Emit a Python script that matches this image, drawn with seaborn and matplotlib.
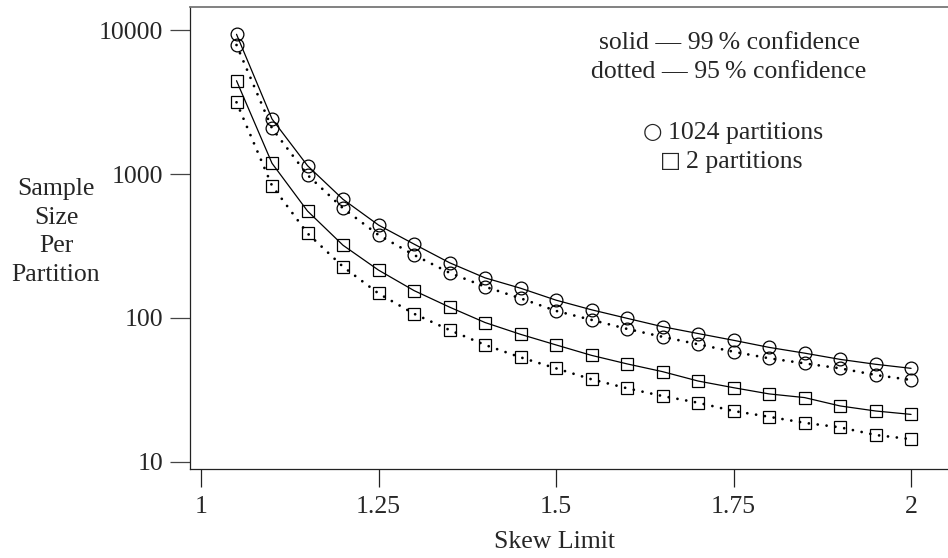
import numpy as np
import pandas as pd
import seaborn as sns
from matplotlib import pyplot as plt

sns.set_style("ticks")
plt.rcParams["font.family"] = ["Liberation Serif", "DejaVu Serif"]

# skew limits on the x axis
skew = [1.05, 1.10, 1.15, 1.20, 1.25, 1.30, 1.35, 1.40, 1.45, 1.50,
        1.55, 1.60, 1.65, 1.70, 1.75, 1.80, 1.85, 1.90, 1.95, 2.00]

# sample size per partition
p1024_99 = [9340, 2410, 1142, 667, 442, 326, 242, 190, 161, 133,
            114, 99.5, 87, 78, 70, 62.5, 57, 51.6, 47.7, 44.7]
p1024_95 = [7870, 2075, 984, 578, 377, 274, 206, 165, 137, 112,
            97, 84, 74, 65.7, 58.3, 52.5, 48.4, 44.7, 40.2, 37.1]
p2_99 = [4446, 1187, 553, 320, 215, 155, 119, 93, 77, 65,
         55, 48, 42.4, 36.5, 32.8, 29.7, 28, 24.5, 22.6, 21.4]
p2_95 = [3148, 829, 387, 227, 148, 107, 82.5, 65, 53.3, 44.7,
         37.5, 32.5, 28.7, 25.8, 22.6, 20.6, 18.7, 17.4, 15.4, 14.4]

x_ticks = [1, 1.25, 1.5, 1.75, 2]
x_tick_labels = ["1", "1.25", "1.5", "1.75", "2"]
y_ticks = [10, 100, 1000, 10000]
y_tick_labels = ["10", "100", "1000", "10000"]

fs = 18.5
fig = plt.figure(figsize=(9.48, 5.58), dpi=100)
ax = fig.add_axes([190 / 948, 1 - 468.7 / 558, 758 / 948, 461.7 / 558])

dotted = (0, (0.01, 3.2))
series = [
    (p1024_99, "o", 9.2, "-", 0.9),
    (p1024_95, "o", 9.2, dotted, 2.0),
    (p2_99, "s", 8.6, "-", 0.9),
    (p2_95, "s", 8.6, dotted, 2.0),
]
for values, marker, msize, ls, lw in series:
    df = pd.DataFrame({"skew": skew, "size": values})
    sns.lineplot(data=df, x="skew", y="size", ax=ax, color="black",
                 linestyle=ls, linewidth=lw, dash_capstyle="round",
                 marker=marker, markersize=msize, markerfacecolor="none",
                 markeredgecolor="black", markeredgewidth=0.9,
                 errorbar=None)

ax.set_yscale("log")
ax.set_xlim(0.9845, 2.052)
ax.set_ylim(8.98, 14450)
ax.set_xticks(x_ticks)
ax.set_xticklabels(x_tick_labels)
ax.set_yticks(y_ticks)
ax.set_yticklabels(y_tick_labels)
ax.minorticks_off()
ax.tick_params(axis="x", length=13, width=0.9, pad=7, labelsize=fs, color="#222")
ax.tick_params(axis="y", length=14.4, width=0.9, pad=5, labelsize=fs, color="#444")

for side in ["left", "bottom"]:
    ax.spines[side].set_color("#222")
    ax.spines[side].set_linewidth(0.9)
ax.spines["top"].set_color("#777")
ax.spines["top"].set_linewidth(1.3)
ax.spines["right"].set_visible(False)

ax.set_xlabel("Skew Limit", fontsize=fs, va="center")
ax.xaxis.set_label_coords((555 - 190) / 758, (468.7 - 542) / 461.7)
ax.set_ylabel("Sample\nSize\nPer\nPartition", fontsize=fs, rotation=0,
              ha="center", va="center", multialignment="center", linespacing=1.4)
ax.yaxis.set_label_coords((56 - 190) / 758, (468.7 - 232) / 461.7)

# confidence notes
fig.text(729 / 948, 1 - 43 / 558, "solid \u2014 99\u2009% confidence",
         fontsize=fs, ha="center", va="center")
fig.text(729 / 948, 1 - 72 / 558, "dotted \u2014 95\u2009% confidence",
         fontsize=fs, ha="center", va="center")

# marker key: symbol drawn in a font with a larger glyph
fig.text(643 / 948, 1 - 132 / 558, "\u25cb", fontsize=16,
         family=["DejaVu Sans"], ha="left", va="center")
fig.text(668 / 948, 1 - 133 / 558, "1024 partitions", fontsize=fs,
         ha="left", va="center")
fig.text(660 / 948, 1 - 161 / 558, "\u25a1", fontsize=16,
         family=["DejaVu Sans"], ha="left", va="center")
fig.text(686 / 948, 1 - 162 / 558, "2 partitions", fontsize=fs,
         ha="left", va="center")

plt.savefig("out.png", dpi=100)
